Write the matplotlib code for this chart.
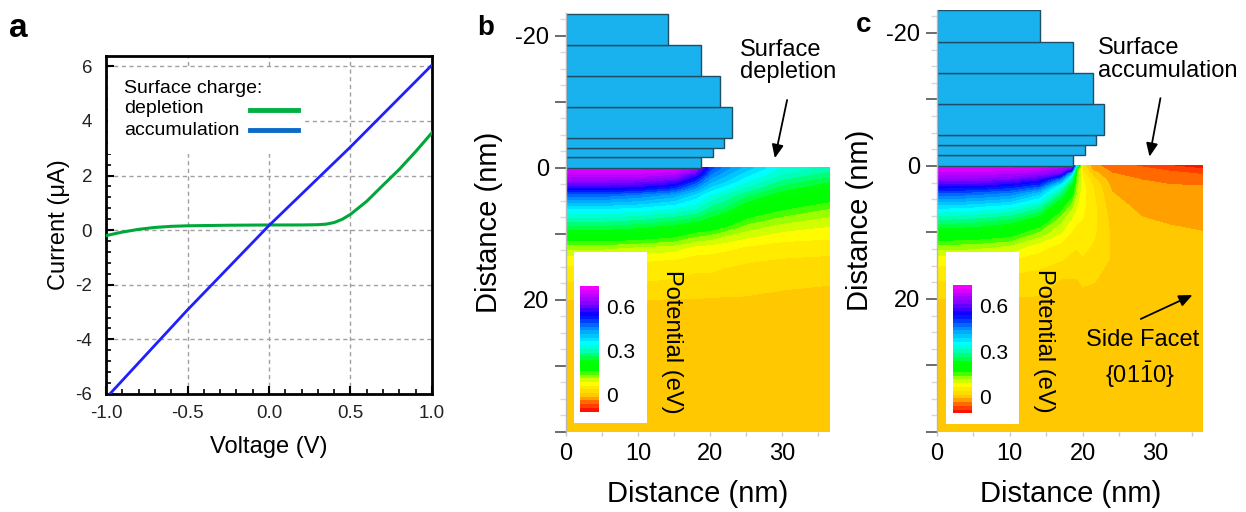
import numpy as np
import matplotlib
matplotlib.use("Agg")
import matplotlib.pyplot as plt
from matplotlib.colors import LinearSegmentedColormap, Normalize
from matplotlib.lines import Line2D
from matplotlib.patches import Rectangle
from matplotlib.ticker import MultipleLocator

plt.rcParams['font.family'] = ['Liberation Sans', 'DejaVu Sans']
plt.rcParams['axes.unicode_minus'] = False
plt.rcParams['mathtext.fontset'] = 'custom'
plt.rcParams['mathtext.rm'] = 'Liberation Sans'
plt.rcParams['mathtext.it'] = 'Liberation Sans:italic'

# ---------------- Panel a data: I-V curves ----------------
v_acc = [-1.0, -0.5, 0.0, 0.5, 1.0]
i_acc = [-6.15, -2.92, 0.17, 3.05, 6.05]

v_dep = [-1.0, -0.9, -0.8, -0.7, -0.6, -0.5, -0.25, 0.0, 0.2, 0.3, 0.35,
         0.4, 0.45, 0.5, 0.55, 0.6, 0.7, 0.8, 0.9, 1.0]
i_dep = [-0.20, -0.07, 0.03, 0.10, 0.14, 0.16, 0.18, 0.19, 0.19, 0.20, 0.22,
         0.28, 0.40, 0.58, 0.82, 1.06, 1.65, 2.23, 2.88, 3.57]

x_ticks_a = [-1.0, -0.5, 0.0, 0.5, 1.0]
x_ticklabels_a = ['-1.0', '-0.5', '0.0', '0.5', '1.0']
y_ticks_a = [-6, -4, -2, 0, 2, 4, 6]

# ---------------- Nanowire cross-section (bars) ----------------
bar_edges = [0, -1.6, -3.1, -4.6, -9.3, -14.0, -18.7, -23.4]
bar_widths = [18.7, 20.4, 21.9, 23.0, 21.4, 18.7, 14.1]

# ---------------- Panel b potential map (values per x column) ----------------
x_b = [0, 5, 10, 15, 18, 20, 22, 25, 30, 36.6]
y_b = [0, 1, 2, 3, 4, 6, 8, 10, 12, 14, 17, 20, 30, 40]
pot_b_cols = [
    [.72, .68, .63, .56, .48, .37, .29, .21, .12, .07, .04, .012, .003, 0],
    [.72, .68, .63, .56, .48, .37, .29, .21, .12, .07, .04, .012, .003, 0],
    [.72, .68, .62, .55, .46, .36, .28, .20, .11, .065, .04, .012, .003, 0],
    [.71, .66, .59, .51, .43, .34, .26, .18, .10, .06, .035, .011, .003, 0],
    [.66, .58, .50, .44, .38, .32, .24, .15, .08, .05, .03, .011, .003, 0],
    [.50, .46, .42, .38, .34, .28, .22, .14, .075, .05, .03, .010, .003, 0],
    [.45, .42, .39, .35, .31, .26, .20, .12, .07, .045, .025, .010, .003, 0],
    [.40, .37, .34, .31, .27, .21, .15, .10, .06, .04, .022, .010, .003, 0],
    [.33, .31, .28, .25, .22, .17, .12, .08, .05, .035, .016, .009, .003, 0],
    [.30, .27, .24, .21, .19, .14, .10, .07, .05, .03, .014, .008, .003, 0],
]

# ---------------- Panel c potential map (values per x column) ----------------
x_c = [0, 5, 10, 14, 17, 18.5, 19.2, 20, 21.5, 24, 28, 32, 36.6]
y_c = [0, 0.5, 1, 2, 3, 4, 6, 8, 10, 12, 14, 17, 20, 30, 40]
pot_c_cols = [
    [.72, .70, .68, .63, .56, .49, .38, .29, .21, .13, .075, .04, .012, .003, 0],
    [.72, .70, .68, .63, .56, .48, .37, .28, .205, .125, .07, .037, .012, .003, 0],
    [.72, .70, .67, .61, .53, .46, .35, .26, .185, .11, .065, .03, .011, .003, 0],
    [.71, .68, .65, .57, .49, .40, .30, .21, .13, .075, .05, .025, .010, .003, 0],
    [.68, .64, .61, .45, .33, .28, .18, .12, .09, .055, .04, .0125, .008, .003, 0],
    [.66, .57, .40, .27, .215, .18, .12, .085, .06, .045, .03, .012, .007, .003, 0],
    [.30, .16, .14, .13, .12, .11, .09, .07, .05, .04, .028, .012, .007, .003, 0],
    [.03, .04, .05, .065, .07, .07, .068, .062, .055, .045, .035, .015, .008, .003, 0],
    [-.03, -.02, -.005, .02, .035, .04, .045, .045, .042, .035, .028, .014, .007, .003, 0],
    [-.05, -.045, -.038, -.028, -.018, -.012, -.004, .004, .008, .01, .01, .006, .004, .002, 0],
    [-.065, -.055, -.048, -.038, -.032, -.027, -.018, -.011, -.004, .002, .004, .004, .003, .001, 0],
    [-.085, -.068, -.058, -.043, -.036, -.031, -.024, -.016, -.008, -.002, 0, .001, .001, 0, 0],
    [-.105, -.085, -.068, -.05, -.0375, -.033, -.026, -.019, -.012, -.005, -.002, 0, 0, 0, 0],
]

cbar_ticks = [0, 0.3, 0.6]
cbar_ticklabels = ['0', '0.3', '0.6']

# ---------------- styling ----------------
levels = np.round(np.arange(-0.1125, 0.75, 0.025), 4)
vmin, vmax = float(levels[0]), float(levels[-1])
stops = [(-0.1125, (1, 0, 0)), (-0.06, (1, 0.35, 0)), (-0.03, (1, 0.6, 0)),
         (0.0, (1, 0.8, 0)), (0.08, (1, 1, 0)), (0.13, (0.55, 1, 0)),
         (0.17, (0, 1, 0)), (0.22, (0, 1, 0)), (0.30, (0, 1, 0.7)),
         (0.35, (0, 1, 1)), (0.45, (0, 0.55, 1)), (0.54, (0, 0, 1)),
         (0.62, (0.5, 0, 1)), (0.7375, (1, 0, 1))]
pos = [min(max((v - vmin) / (vmax - vmin), 0.0), 1.0) for v, _ in stops]
pos[0], pos[-1] = 0.0, 1.0
cmap = LinearSegmentedColormap.from_list('pot', list(zip(pos, [c for _, c in stops])))

fig = plt.figure(figsize=(12.46, 5.12), dpi=100)

# ================= Panel a =================
ax = fig.add_axes([0.0851, 0.2305, 0.2616, 0.6602])
ax.plot(v_dep, i_dep, color='#00a83a', lw=2.2, zorder=3)
ax.plot(v_acc, i_acc, color='#1f1fff', lw=2.0, zorder=3)
ax.set_xlim(-1, 1)
ax.set_ylim(-6, 6.38)
ax.set_xticks(x_ticks_a)
ax.set_xticklabels(x_ticklabels_a)
ax.set_yticks(y_ticks_a)
ax.xaxis.set_minor_locator(MultipleLocator(0.1))
ax.yaxis.set_minor_locator(MultipleLocator(0.4))
ax.tick_params(which='both', direction='in', top=False, right=False,
               colors='black', labelcolor='#222222')
ax.tick_params(which='major', length=6, width=1.5, labelsize=13.5)
ax.tick_params(axis='x', which='major', pad=8)
ax.tick_params(axis='y', which='major', pad=10)
ax.tick_params(which='minor', length=3.5, width=1.2)
ax.grid(True, which='major', color='#a0a0a0', linestyle=(0, (3, 2.5)), lw=1)
ax.set_axisbelow(True)
for s in ax.spines.values():
    s.set_linewidth(2)
ax.set_xlabel('Voltage (V)', fontsize=17, labelpad=10)
ax.set_ylabel('Current (μA)', fontsize=17, labelpad=4)

# legend (white background, labels left, keys right)
ax.add_patch(Rectangle((0.006, 0.710), 0.598, 0.255, transform=ax.transAxes,
                       facecolor='white', edgecolor='none', zorder=2))
ax.text(0.056, 0.890, 'Surface charge:', transform=ax.transAxes, fontsize=14,
        va='baseline', ha='left', zorder=4)
ax.text(0.056, 0.830, 'depletion', transform=ax.transAxes, fontsize=14,
        va='baseline', ha='left', zorder=4)
ax.text(0.056, 0.766, 'accumulation', transform=ax.transAxes, fontsize=14,
        va='baseline', ha='left', zorder=4)
ax.add_line(Line2D([0.442, 0.589], [0.840, 0.840], transform=ax.transAxes,
                   color='#00b040', lw=3.5, zorder=4))
ax.add_line(Line2D([0.442, 0.589], [0.780, 0.780], transform=ax.transAxes,
                   color='#0a6ac8', lw=3.5, zorder=4))

XMAX, YBOT = 36.6, 40.0


def map_panel(rect, xs, ys, cols, top, cbar_box, white_box):
    axm = fig.add_axes(rect)
    Z = np.array(cols).T
    axm.barh(bar_edges[:-1], bar_widths, height=np.diff(bar_edges), left=0,
             align='edge', color='#19b1ee', edgecolor='#1f4f66', lw=1.0,
             zorder=2)
    cf = axm.contourf(xs, ys, Z, levels=levels, cmap=cmap,
                      norm=Normalize(vmin, vmax), zorder=1, antialiased=False)
    axm.set_xlim(0, XMAX)
    axm.set_ylim(YBOT, top)
    for side in ('top', 'right', 'bottom'):
        axm.spines[side].set_visible(False)
    axm.spines['left'].set_color('#b8b8b8')
    axm.spines['left'].set_linewidth(1)
    axm.set_yticks([-20, -10, 0, 10, 20, 30, 40])
    axm.set_yticklabels(['-20', '', '0', '', '20', '', ''])
    axm.yaxis.set_minor_locator(MultipleLocator(2.5))
    axm.set_xticks([0, 10, 20, 30])
    axm.xaxis.set_minor_locator(MultipleLocator(5))
    axm.tick_params(axis='y', which='major', direction='out', length=8,
                    width=1.3, color='#606060', pad=4, labelsize=17)
    axm.tick_params(axis='y', which='minor', direction='out', length=4,
                    width=1, color='#d8d8d8')
    axm.tick_params(axis='x', which='both', direction='out', length=3,
                    width=1, color='#c8c8c8', labelsize=17, pad=5)
    axm.set_xlabel('Distance (nm)', fontsize=21, labelpad=11)
    axm.set_ylabel('Distance (nm)', fontsize=21, labelpad=9)
    wx0, wy0, wx1, wy1 = white_box
    axm.add_patch(Rectangle((wx0, wy0), wx1 - wx0, wy1 - wy0,
                            facecolor='white', edgecolor='none', zorder=3))
    # colour bar box: data (x0, y_top, x1, y_bottom) -> axes fraction
    cx0, cyt, cx1, cyb = cbar_box
    span = YBOT - top
    bounds = [cx0 / XMAX, (YBOT - cyb) / span, (cx1 - cx0) / XMAX,
              (cyb - cyt) / span]
    cax = axm.inset_axes(bounds)
    cb = fig.colorbar(cf, cax=cax)
    cb.set_ticks(cbar_ticks, labels=cbar_ticklabels)
    cb.outline.set_visible(False)
    cb.ax.tick_params(length=0, labelsize=15, pad=5)
    axm.text(14.7, 26.3, 'Potential (eV)', rotation=-90, ha='center',
             va='center', fontsize=17, zorder=4)
    return axm


arrow = dict(arrowstyle='-|>,head_length=0.8,head_width=0.35', color='black',
             lw=1.3, shrinkA=0, shrinkB=0)

# ================= Panel b =================
axb = map_panel([0.4543, 0.15625, 0.2115, 0.8186], x_b, y_b, pot_b_cols, -23.5,
                (2.0, 17.9, 4.6, 36.9), (1.1, 12.8, 11.25, 38.6))
axb.text(24.2, -19.6, 'Surface\ndepletion', ha='left', va='top', fontsize=17,
         linespacing=1.05)
axb.annotate('', xy=(29.0, -1.5), xytext=(30.7, -10.3), arrowprops=arrow)

# ================= Panel c =================
axc = map_panel([0.7520, 0.15625, 0.2138, 0.8248], x_c, y_c, pot_c_cols, -23.5,
                (2.25, 17.9, 4.77, 37.2), (1.24, 13.0, 11.2, 38.8))
axc.text(22.1, -19.4, 'Surface\naccumulation', ha='left', va='top',
         fontsize=17, linespacing=1.05)
axc.annotate('', xy=(29.2, -1.4), xytext=(30.7, -10.2), arrowprops=arrow)
axc.annotate('', xy=(35.1, 19.4), xytext=(28.0, 23.0), arrowprops=arrow)
axc.text(28.3, 26.2, 'Side Facet', ha='center', va='center', fontsize=17)
axc.text(27.9, 31.4, r'$\{01\bar{1}0\}$', ha='center', va='center',
         fontsize=17)

# panel letters
fig.text(0.0148, 0.928, 'a', fontsize=24, fontweight='bold', ha='center',
         va='baseline')
fig.text(0.3895, 0.9316, 'b', fontsize=20, fontweight='bold', ha='center',
         va='baseline')
fig.text(0.6934, 0.9375, 'c', fontsize=20, fontweight='bold', ha='center',
         va='baseline')

fig.savefig('out.png', dpi=100)
